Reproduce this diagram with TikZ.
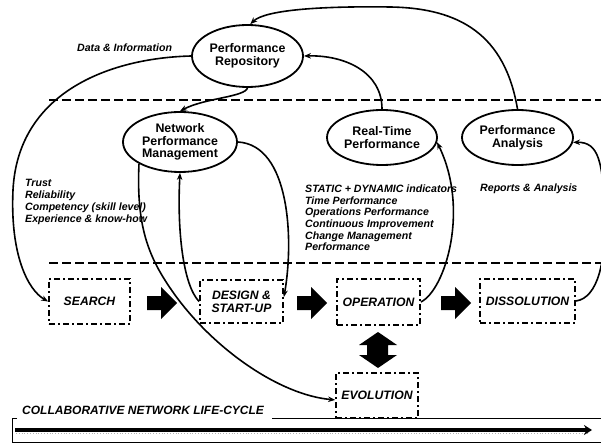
\documentclass[tikz,border=0pt]{standalone}
\usepackage{fontspec}
\setmainfont{Liberation Sans}
\usetikzlibrary{arrows.meta,shapes.geometric}
\begin{document}
\begin{tikzpicture}[x=1pt,y=-1pt,
  ell/.style={draw,ellipse,line width=1.8pt,inner sep=0pt,font=\fontsize{12.4}{12.6}\selectfont\bfseries,align=center},
  stagebox/.style={draw,line width=1.8pt,dash pattern=on 6pt off 3pt on 2pt off 3pt,font=\fontsize{12.2}{12.6}\selectfont\bfseries\itshape,align=center,inner sep=0pt},
  conn/.style={line width=1.6pt,-{Stealth[length=7pt,width=5.5pt]}},
  sep/.style={line width=2.5pt,dash pattern=on 9pt off 4pt},
  lbl/.style={font=\fontsize{10.6}{11.7}\selectfont\bfseries\itshape,align=left,inner sep=0pt},
  frame/.style={line width=0.9pt}
]
\useasboundingbox (0,0) rectangle (601,443);

% separators
\draw[sep] (49,100) -- (601,100);
\draw[sep] (49,263) -- (601,263);

% ellipses
\node[ell,minimum width=111pt,minimum height=62pt] (rep) at (247.5,56) {Performance\\Repository};
\node[ell,minimum width=114pt,minimum height=60pt] (npm) at (180,142) {Network\\Performance\\Management};
\node[ell,minimum width=110pt,minimum height=55pt] (rt) at (382,137.5) {Real-Time\\Performance};
\node[ell,minimum width=111pt,minimum height=55pt] (pa) at (517.5,137.5) {Performance\\Analysis};

% stage boxes
\node[stagebox,minimum width=81pt,minimum height=45pt] (search) at (89.5,301.5) {SEARCH};
\node[stagebox,minimum width=83pt,minimum height=43pt] (design) at (241.5,301.5) {DESIGN \&\\START-UP};
\node[stagebox,minimum width=83pt,minimum height=46pt] (op) at (378.5,302) {OPERATION};
\node[stagebox,minimum width=95pt,minimum height=44pt] (dis) at (527.5,301) {DISSOLUTION};
\node[stagebox,minimum width=82pt,minimum height=45pt] (evo) at (377,395.5) {EVOLUTION};

% block arrows
\fill (147,296) -- (161,296) -- (161,287) -- (177,303) -- (161,319) -- (161,310) -- (147,310) -- cycle;
\fill (297,296) -- (311,296) -- (311,287) -- (327,303) -- (311,319) -- (311,310) -- (297,310) -- cycle;
\fill (441,296) -- (455,296) -- (455,287) -- (471,303) -- (455,319) -- (455,310) -- (441,310) -- cycle;
\fill (378,332) -- (397,345) -- (388,345) -- (388,355) -- (397,355) -- (378,368) -- (359,355) -- (367,355) -- (367,345) -- (359,345) -- cycle;

% labels
\node[lbl,anchor=west] (dinfo) at (77,48) {Data \& Information};
\node[lbl,anchor=north west] (trust) at (25,179.5) {Trust\\Reliability\\Competency (skill level)\\Experience \& know-how};
\node[lbl,anchor=north west] (static) at (305,184.5) {STATIC + DYNAMIC indicators\\Time Performance\\Operations Performance\\Continuous Improvement\\Change Management\\Performance};
\node[lbl,anchor=west] (reports) at (480,189) {Reports \& Analysis};

% connectors
\draw[conn] (pa.north) .. controls (505,35) and (460,8) .. (390,7) .. controls (320,6) and (265,10) .. (rep.85);
\draw[conn] (rt.north) .. controls (382,72) and (345,55) .. (rep.east);
\draw[conn] (rep.south) .. controls (245,97) and (205,98) .. (npm.north);
\draw[conn] (rep.west) .. controls (110,58) and (18,92) .. (13,190) .. controls (10,255) and (28,290) .. (search.west);
\draw[conn] (npm.east) .. controls (290,145) and (294,240) .. (design.6);
\draw[conn] (design.west) .. controls (183,285) and (177,230) .. (npm.south);
\draw[conn] (npm.208) .. controls (136,230) and (150,260) .. (175,295) .. controls (215,350) and (280,395) .. (evo.186);
\draw[conn] (op.east) .. controls (445,290) and (470,210) .. (rt.-5);
\draw[conn] (dis.east) .. controls (598,298) and (606,260) .. (604,220) .. controls (604,160) and (598,142) .. (pa.-5);

% life-cycle frame
\node[font=\fontsize{12}{12}\selectfont\bfseries\itshape,anchor=west,inner sep=0pt] (cnlc) at (22,410) {COLLABORATIVE NETWORK LIFE-CYCLE};
\draw[frame] (17,418) -- (12,418) -- (12,442) -- (601,442);
\draw[frame] (272,418) -- (601,418);
\coordinate (tl0) at (15,430);
\coordinate (tl1) at (592,430);
\draw[gray!60,dotted,line width=0.8pt] (16,433.5) -- (588,433.5);
\draw[line width=3.5pt,-{Stealth[length=8pt,width=10pt]}] (tl0) -- (tl1);
\end{tikzpicture}
\end{document}
